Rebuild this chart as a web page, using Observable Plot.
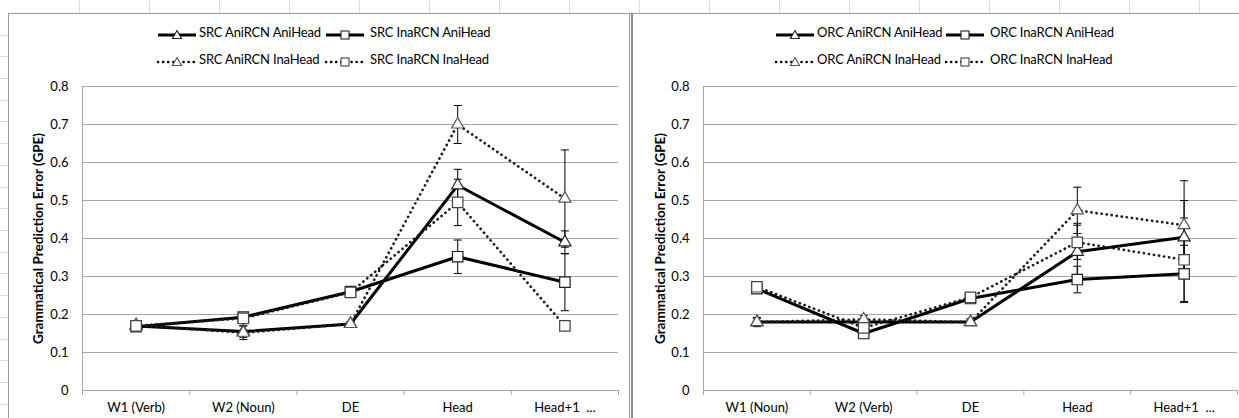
<!DOCTYPE html>
<html>
<head>
<meta charset="utf-8">
<script src="https://cdn.jsdelivr.net/npm/d3@7"></script>
<script src="https://cdn.jsdelivr.net/npm/@observablehq/plot@0.6"></script>
<style>
  body { margin: 0; background: #fff; }
  #wrap { position: relative; width: 1239px; height: 418px; overflow: hidden; background: #fff; font-family: Lato, "Open Sans", sans-serif; }
  .panel { position: absolute; top: 0; }
  .lg-sw { position: absolute; }
  .lg-tx { position: absolute; font-size: 13px; line-height: 14px; color: #000; white-space: nowrap; letter-spacing: -0.15px; }
  .deco { position: absolute; }
</style>
</head>
<body>
<div id="wrap"></div>
<script>
// ---------- data ----------
const categoriesSRC = ["W1 (Verb)", "W2 (Noun)", "DE", "Head", "Head+1\u00a0\u00a0..."];
const categoriesORC = ["W1 (Noun)", "W2 (Verb)", "DE", "Head", "Head+1\u00a0\u00a0..."];
const yTicks = [0, 0.1, 0.2, 0.3, 0.4, 0.5, 0.6, 0.7, 0.8];
const yLabel = "Grammatical Prediction Error (GPE)";

const seriesNamesSRC = ["SRC AniRCN AniHead", "SRC InaRCN AniHead", "SRC AniRCN InaHead", "SRC InaRCN InaHead"];
const seriesNamesORC = ["ORC AniRCN AniHead", "ORC InaRCN AniHead", "ORC AniRCN InaHead", "ORC InaRCN InaHead"];

// SRC values and error half-widths
const srcAniAni = [0.170, 0.155, 0.175, 0.540, 0.390];
const srcAniAniErr = [0.010, 0.015, 0.006, 0.042, 0.030];
const srcInaAni = [0.168, 0.193, 0.260, 0.352, 0.285];
const srcInaAniErr = [0.010, 0.010, 0.008, 0.044, 0.075];
const srcAniIna = [0.172, 0.152, 0.175, 0.700, 0.505];
const srcAniInaErr = [0.010, 0.018, 0.006, 0.050, 0.128];
const srcInaIna = [0.170, 0.190, 0.258, 0.495, 0.170];
const srcInaInaErr = [0.010, 0.010, 0.008, 0.061, 0.010];

// ORC values and error half-widths
const orcAniAni = [0.180, 0.180, 0.180, 0.365, 0.403];
const orcAniAniErr = [0.012, 0.010, 0.008, 0.075, 0.097];
const orcInaAni = [0.268, 0.150, 0.242, 0.292, 0.307];
const orcInaAniErr = [0.010, 0.012, 0.008, 0.035, 0.075];
const orcAniIna = [0.180, 0.187, 0.180, 0.474, 0.435];
const orcAniInaErr = [0.010, 0.010, 0.008, 0.061, 0.117];
const orcInaIna = [0.273, 0.165, 0.245, 0.390, 0.344];
const orcInaInaErr = [0.010, 0.010, 0.008, 0.045, 0.110];

// ---------- styles per series ----------
const styles = [
  { symbol: "triangle", dotted: false, mstroke: "#222", r: 4.5 },
  { symbol: "square",   dotted: false, mstroke: "#222", r: 5.9 },
  { symbol: "triangle", dotted: true,  mstroke: "#555", r: 4.5 },
  { symbol: "square",   dotted: true,  mstroke: "#444", r: 5.9 }
];

const capSymbol = { draw(ctx) { ctx.moveTo(-4, 0); ctx.lineTo(4, 0); } };
const gridColor = "#a6a6a6";

function buildPanel(cats, names, vals, errs, opts) {
  const rowsBySeries = names.map((name, si) =>
    vals[si].map((v, i) => ({ series: name, x: i + 0.5, y: v, lo: v - errs[si][i], hi: v + errs[si][i] }))
  );
  const all = rowsBySeries.flat();
  const marks = [
    Plot.gridY(yTicks.slice(1), { stroke: gridColor, strokeOpacity: 1, strokeWidth: 1 }),
    Plot.ruleY([0], { stroke: gridColor, strokeWidth: 1 }),
    Plot.ruleX([0], { y1: 0, y2: 0.8, stroke: gridColor, strokeWidth: 1 }),
    Plot.axisX([0, 1, 2, 3, 4, 5], { tickSize: 5, stroke: gridColor, tickFormat: () => "", label: null }),
    Plot.axisX(cats.map((c, i) => i + 0.5), { tickSize: 0, tickPadding: 12, tickFormat: d => cats[Math.round(d - 0.5)], fill: "#000", label: null }),
    Plot.axisY(yTicks, { tickSize: 0, tickPadding: 14, tickFormat: d => d === 0 ? "0" : d.toFixed(1), fill: "#000", label: null }),
    Plot.text([yLabel], { frameAnchor: "left", textAnchor: "middle", lineAnchor: "middle", dx: opts.labelDx, rotate: -90, fontWeight: "bold", fontSize: 13.5, fill: "#000" })
  ];
  rowsBySeries.forEach((rows, si) => {
    const st = styles[si];
    marks.push(Plot.line(rows, {
      x: "x", y: "y", stroke: st.dotted ? "#1a1a1a" : "#000",
      strokeWidth: st.dotted ? 2.7 : 3,
      strokeDasharray: st.dotted ? "0.1,5" : null,
      strokeLinecap: st.dotted ? "round" : "butt",
      strokeLinejoin: "round"
    }));
  });
  marks.push(Plot.ruleX(all, { x: "x", y1: "lo", y2: "hi", stroke: "#000", strokeWidth: 1 }));
  marks.push(Plot.dot(all, { x: "x", y: "lo", symbol: capSymbol, stroke: "#000", fill: "none", strokeWidth: 1 }));
  marks.push(Plot.dot(all, { x: "x", y: "hi", symbol: capSymbol, stroke: "#000", fill: "none", strokeWidth: 1 }));
  rowsBySeries.forEach((rows, si) => {
    const st = styles[si];
    marks.push(Plot.dot(rows, { x: "x", y: "y", symbol: st.symbol, r: st.r, fill: "white", stroke: st.mstroke, strokeWidth: 1.2 }));
  });
  const svg = Plot.plot({
    width: opts.width, height: 418,
    marginLeft: opts.marginLeft, marginRight: 2, marginTop: 86, marginBottom: 28,
    x: { type: "linear", domain: [0, 5] },
    y: { domain: [0, 0.8] },
    style: { fontFamily: "Lato, 'Open Sans', sans-serif", fontSize: "13px", background: "transparent", overflow: "visible" },
    marks
  });
  svg.classList.add("panel");
  svg.style.left = opts.left + "px";
  return svg;
}

const wrap = document.getElementById("wrap");

// faint spreadsheet cell lines
const topStrip = document.createElement("div");
topStrip.className = "deco";
Object.assign(topStrip.style, { left: "10px", top: "0px", width: "1229px", height: "13px",
  background: "repeating-linear-gradient(to right, transparent 0, transparent 69px, #dcdcdc 69px, #dcdcdc 70px)" });
wrap.appendChild(topStrip);
const leftStrip = document.createElement("div");
leftStrip.className = "deco";
Object.assign(leftStrip.style, { left: "0px", top: "14px", width: "8px", height: "404px",
  background: "repeating-linear-gradient(to bottom, transparent 0, transparent 20.7px, #dcdcdc 20.7px, #dcdcdc 21.7px)" });
wrap.appendChild(leftStrip);

wrap.appendChild(buildPanel(categoriesSRC, seriesNamesSRC,
  [srcAniAni, srcInaAni, srcAniIna, srcInaIna],
  [srcAniAniErr, srcInaAniErr, srcAniInaErr, srcInaInaErr],
  { left: 0, width: 620, marginLeft: 82, labelDx: -44 }));
wrap.appendChild(buildPanel(categoriesORC, seriesNamesORC,
  [orcAniAni, orcInaAni, orcAniIna, orcInaIna],
  [orcAniAniErr, orcInaAniErr, orcAniInaErr, orcInaInaErr],
  { left: 620, width: 619, marginLeft: 83, labelDx: -43 }));

// frame lines
function line(l, t, w, h, c) {
  const d = document.createElement("div");
  d.className = "deco";
  Object.assign(d.style, { left: l + "px", top: t + "px", width: w + "px", height: h + "px", background: c });
  wrap.appendChild(d);
}
line(8, 13, 1231, 1, "#9a9a9a");
line(8, 13, 1, 405, "#9a9a9a");
line(629, 13, 1, 405, "#9a9a9a");
line(631, 13, 2, 405, "#8c8c8c");

// legends
function swatch(st) {
  const dash = st.dotted ? 'stroke-dasharray="0.1,5" stroke-linecap="round" stroke-width="2.6"' : 'stroke-width="3"';
  const m = st.symbol === "triangle"
    ? '<path d="M20,2.5 L24.5,10.5 L15.5,10.5 Z" fill="white" stroke="' + st.mstroke + '" stroke-width="1.1"/>'
    : '<rect x="16" y="3" width="8" height="8" fill="white" stroke="' + st.mstroke + '" stroke-width="1.1"/>';
  return '<svg width="40" height="14"><line x1="1" y1="7" x2="39" y2="7" stroke="#000" ' + dash + '/>' + m + '</svg>';
}
function legend(names, pos) {
  names.forEach((n, i) => {
    const p = pos[i];
    const sw = document.createElement("div");
    sw.className = "lg-sw";
    sw.style.left = p[0] + "px"; sw.style.top = (p[2] - 7) + "px";
    sw.innerHTML = swatch(styles[i]);
    wrap.appendChild(sw);
    const tx = document.createElement("div");
    tx.className = "lg-tx";
    tx.style.left = p[1] + "px"; tx.style.top = (p[2] - 8) + "px";
    tx.textContent = n;
    wrap.appendChild(tx);
  });
}
legend(seriesNamesSRC, [[157, 199, 33], [325, 370, 33], [157, 199, 60], [325, 370, 60]]);
legend(seriesNamesORC, [[775, 817, 33], [945, 990, 33], [775, 817, 60], [945, 990, 60]]);
</script>
</body>
</html>
